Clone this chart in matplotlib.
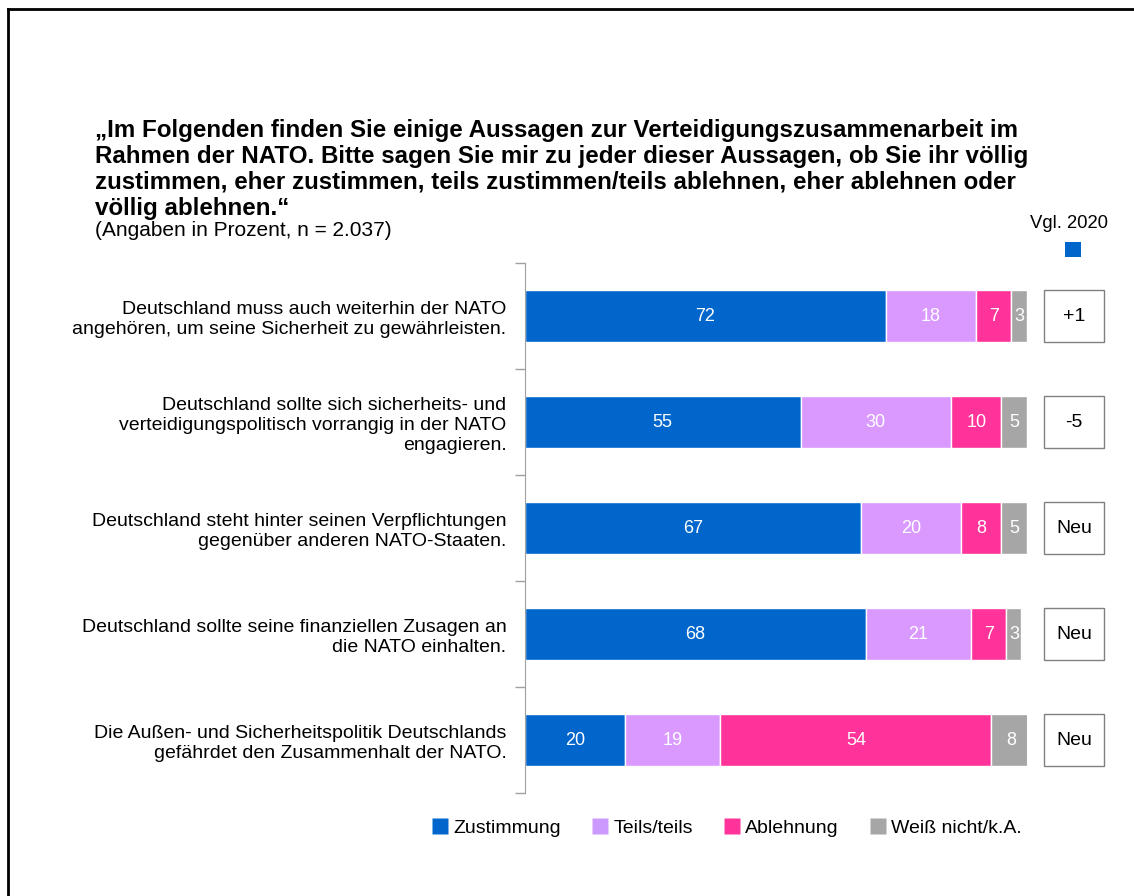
import numpy as np
import matplotlib.pyplot as plt
from matplotlib.lines import Line2D
from matplotlib.patches import Rectangle

plt.rcParams['font.family'] = ['Liberation Sans', 'DejaVu Sans']

# data
labels = [
    "Deutschland muss auch weiterhin der NATO\nangehören, um seine Sicherheit zu gewährleisten.",
    "Deutschland sollte sich sicherheits- und\nverteidigungspolitisch vorrangig in der NATO\nengagieren.",
    "Deutschland steht hinter seinen Verpflichtungen\ngegenüber anderen NATO-Staaten.",
    "Deutschland sollte seine finanziellen Zusagen an\ndie NATO einhalten.",
    "Die Außen- und Sicherheitspolitik Deutschlands\ngefährdet den Zusammenhalt der NATO.",
]
series = ["Zustimmung", "Teils/teils", "Ablehnung", "Weiß nicht/k.A."]
zustimmung = [72, 55, 67, 68, 20]
teils = [18, 30, 20, 21, 19]
ablehnung = [7, 10, 8, 7, 54]
weiss = [3, 5, 5, 3, 8]
vgl2020 = ["+1", "-5", "Neu", "Neu", "Neu"]

colors = ["#0066CC", "#DA99FF", "#FF3399", "#A6A6A6"]
legend_colors = ["#0066CC", "#CC99FF", "#FF3399", "#A6A6A6"]

fig = plt.figure(figsize=(11.34, 8.96), dpi=100)
ax = fig.add_axes([524.5/1134, 1-793/896, 502/1134, 530/896])

y = np.arange(len(labels))
left = np.zeros(len(labels))
for vals, name, c in zip([zustimmung, teils, ablehnung, weiss], series, colors):
    vals = np.array(vals, dtype=float)
    ax.barh(y, vals, left=left, height=0.49, color=c, edgecolor="white",
            linewidth=1, label=name)
    for yi, l, v in zip(y, left, vals):
        ax.text(l + v/2, yi, f"{int(v)}", ha="center", va="center",
                color="white", fontsize=13)
    left += vals

# comparison boxes (Vgl. 2020)
for yi, t in zip(y, vgl2020):
    ax.add_patch(Rectangle((103.5, yi - 0.245), 11.9, 0.49, facecolor="white",
                           edgecolor="#808080", linewidth=1, clip_on=False))
    ax.text(109.45, yi, t, ha="center", va="center", fontsize=14, color="black")
ax.text(108.4, -0.87, "Vgl. 2020", ha="center", va="center", fontsize=13.3)
ax.add_patch(Rectangle((107.6, -0.697), 3.2, 0.142, facecolor="#0066CC",
                       edgecolor="none", clip_on=False))

ax.set_xlim(0, 100)
ax.set_ylim(4.5, -0.5)
ax.set_yticks(np.arange(-0.5, 5, 1))
ax.set_yticklabels([])
ax.set_yticks(y, minor=True)
ax.set_yticklabels(labels, minor=True, fontsize=14, ha="right", linespacing=1.25)
ax.tick_params(axis="y", which="minor", length=0, pad=13)
ax.tick_params(axis="y", which="major", length=7, color="#A0A0A0", width=1)
ax.set_xticks([])
for s in ["top", "right", "bottom"]:
    ax.spines[s].set_visible(False)
ax.spines["left"].set_color("#A0A0A0")

fig.text(95/1134, 1-119/896,
         "„Im Folgenden finden Sie einige Aussagen zur Verteidigungszusammenarbeit im\n"
         "Rahmen der NATO. Bitte sagen Sie mir zu jeder dieser Aussagen, ob Sie ihr völlig\n"
         "zustimmen, eher zustimmen, teils zustimmen/teils ablehnen, eher ablehnen oder\n"
         "völlig ablehnen.“",
         fontsize=17.4, fontweight="bold", va="top", ha="left", linespacing=1.16)
fig.text(95/1134, 1-231/896, "(Angaben in Prozent, n = 2.037)", fontsize=15,
         va="center", ha="left")

handles = [Line2D([], [], marker="s", linestyle="none", markersize=11.5,
                  markerfacecolor=c, markeredgecolor="none") for c in legend_colors]
fig.legend(handles, series, loc="center", bbox_to_anchor=(727/1134, 1-828/896),
           ncol=4, frameon=False, fontsize=14, handletextpad=0.3,
           columnspacing=1.6, handlelength=0.8)

# outer frame lines
fig.add_artist(Line2D([7.5/1134, 7.5/1134], [0, 1-9.5/896], color="black", linewidth=2))
fig.add_artist(Line2D([7.5/1134, 1], [1-9.5/896, 1-9.5/896], color="black", linewidth=2))

fig.savefig("out.png", dpi=100)
